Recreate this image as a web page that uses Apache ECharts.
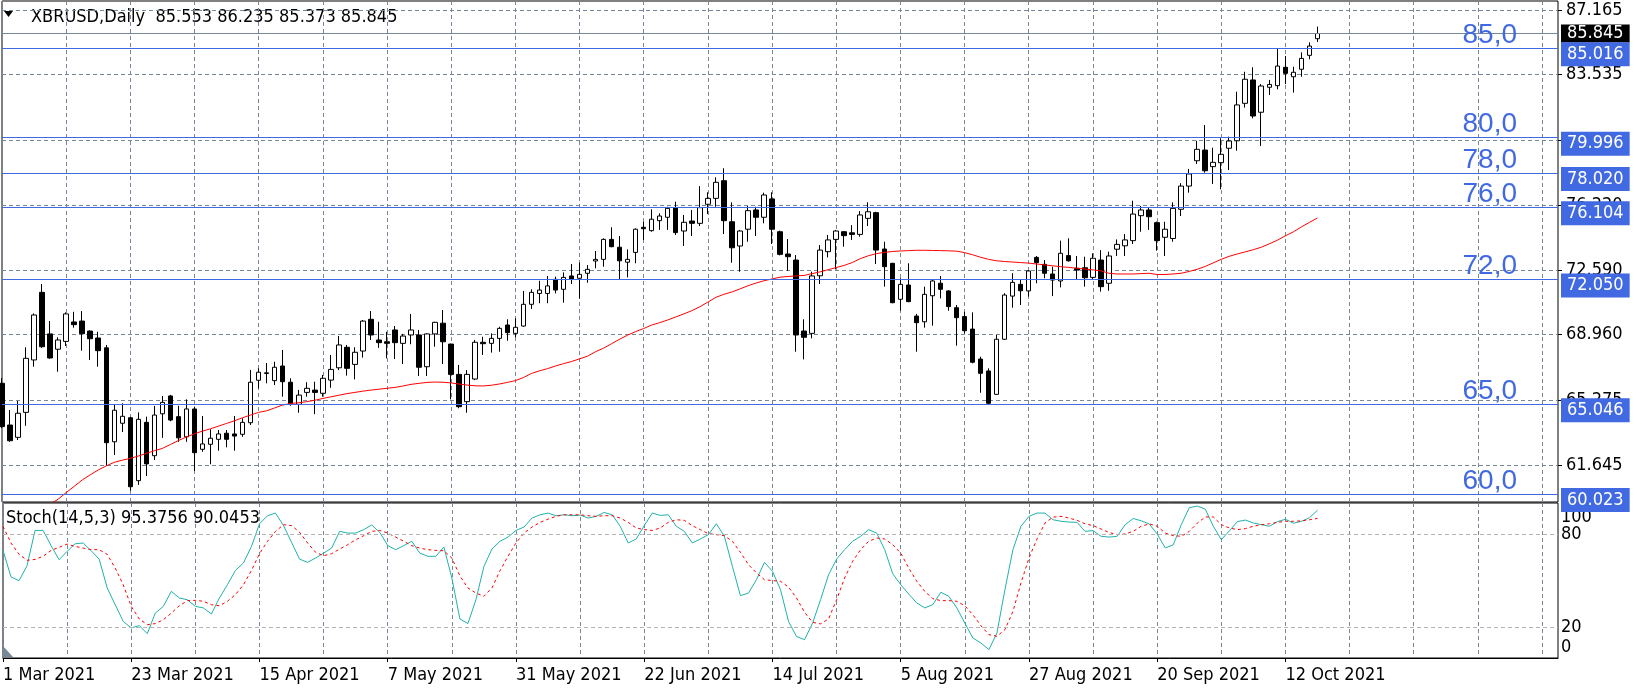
<!DOCTYPE html>
<html>
<head>
<meta charset="utf-8">
<script src="https://cdn.jsdelivr.net/npm/echarts@6/dist/echarts.min.js"></script>
<style>html,body{margin:0;padding:0;background:#fff;}#c{width:1635px;height:688px;}</style>
</head>
<body>
<div id="c"></div>
<script>
// ---------- data ----------
const MONTHS = ['Jan','Feb','Mar','Apr','May','Jun','Jul','Aug','Sep','Oct','Nov','Dec'];
const HOLIDAYS = ['2021-04-02'];
const SLOTS = 195;
const dates = [];
for (let t = Date.UTC(2021, 2, 1); dates.length < SLOTS; t += 86400000) {
  const d = new Date(t), wd = d.getUTCDay();
  if (wd === 0 || wd === 6) continue;
  if (HOLIDAYS.includes(d.toISOString().slice(0, 10))) continue;
  dates.push(d.getUTCDate() + ' ' + MONTHS[d.getUTCMonth()] + ' ' + d.getUTCFullYear());
}

// [open, high, low, close]
const ohlc = [
[66.23,66.52,63.72,63.80],[63.89,64.73,62.95,63.01],[63.20,65.24,63.05,64.55],[64.60,68.25,63.85,67.63],
[67.54,70.15,67.16,70.06],[71.33,71.80,68.22,68.28],[69.00,69.72,67.61,67.65],[68.14,68.81,66.88,68.66],
[68.58,70.21,68.32,70.12],[69.67,70.24,69.35,69.52],[69.72,70.28,68.06,69.01],[69.16,69.20,67.54,68.73],
[68.77,69.12,67.16,68.06],[68.22,68.38,61.61,62.90],[62.95,65.07,62.21,64.72],[63.99,65.11,63.50,64.38],
[64.30,64.35,60.20,60.43],[60.77,64.60,60.53,64.21],[64.04,64.36,61.03,61.71],[62.17,64.96,61.93,64.45],
[64.52,65.52,63.17,65.16],[65.52,65.58,64.10,64.17],[64.36,64.97,62.95,63.17],[63.23,65.33,62.95,64.79],
[64.79,64.92,61.31,62.34],[62.53,64.40,62.39,62.83],[62.81,63.65,61.69,63.15],[63.09,63.61,62.45,63.39],
[63.43,63.61,62.64,63.09],[63.39,64.40,62.45,63.27],[63.37,64.27,63.23,64.04],[64.02,66.98,63.89,66.29],
[66.40,67.07,65.95,66.85],[66.78,67.37,66.23,66.82],[66.38,67.44,66.13,67.13],[67.20,68.10,65.48,66.32],
[66.29,66.51,64.97,65.05],[65.05,65.86,64.58,65.57],[65.72,66.29,65.48,65.95],[65.85,66.32,64.50,65.72],
[65.67,66.70,65.48,66.51],[66.41,67.82,65.98,67.01],[67.10,68.88,66.97,68.38],[68.25,68.38,66.66,67.07],
[67.29,68.25,66.45,67.97],[68.04,69.78,67.67,69.72],[69.82,70.28,68.66,68.94],[68.66,69.68,68.22,68.51],
[68.56,69.12,67.63,68.47],[69.22,69.44,67.59,68.51],[68.47,69.00,67.31,68.88],[68.94,70.12,68.42,69.22],
[68.94,69.22,66.64,67.13],[67.16,69.03,66.64,69.00],[69.00,69.68,68.28,69.65],[69.60,70.34,67.31,68.56],
[68.43,68.45,65.33,66.73],[66.73,67.26,64.83,64.92],[65.20,66.97,64.58,66.73],[66.47,68.66,66.41,68.53],
[68.53,68.84,67.82,68.45],[68.47,69.03,67.95,68.75],[68.75,69.40,68.00,69.31],[69.50,69.82,68.62,69.07],
[69.03,69.88,68.81,69.37],[69.44,71.41,69.40,70.66],[70.66,71.50,70.40,71.33],[71.27,71.98,70.72,71.46],
[71.27,72.25,70.72,71.69],[72.06,72.21,71.27,71.46],[71.50,72.45,70.75,72.17],[72.25,72.92,71.80,72.06],
[72.12,73.00,70.99,72.34],[72.40,72.86,71.87,72.62],[73.09,73.65,72.68,73.18],[73.18,74.36,72.77,74.30],
[74.30,74.98,73.86,73.89],[73.86,74.49,72.06,73.10],[73.02,73.74,72.17,73.18],[73.57,74.92,72.96,74.87],
[74.98,75.29,74.27,74.90],[74.79,75.99,74.73,75.43],[75.35,75.76,74.83,75.61],[75.54,76.13,74.83,76.04],
[76.08,76.41,74.55,74.68],[74.77,75.67,73.93,75.26],[75.33,75.95,74.49,75.20],[75.20,77.29,75.05,76.08],
[76.27,76.94,75.72,76.60],[76.60,77.78,76.13,77.50],[77.59,78.29,74.60,75.35],[75.29,76.38,72.99,73.83],
[73.93,74.83,72.49,74.77],[74.87,76.17,74.17,75.91],[75.95,76.13,74.49,75.54],[75.54,76.92,75.20,76.79],
[76.57,76.94,74.04,74.87],[74.73,74.79,73.40,73.46],[73.48,74.32,72.54,73.33],[73.14,73.42,68.00,68.94],
[69.16,69.82,67.57,68.81],[69.03,72.49,68.75,72.25],[72.26,73.98,71.80,73.70],[73.61,74.55,73.29,74.27],
[74.30,74.83,72.62,74.77],[74.73,74.77,73.89,74.51],[74.67,75.10,74.27,74.58],[74.58,75.89,74.45,75.67],
[75.48,76.38,75.05,75.85],[75.80,75.85,72.92,73.70],[73.76,74.17,71.65,72.77],[72.96,72.98,70.72,70.75],
[70.94,72.12,70.30,71.78],[71.74,72.96,70.78,70.81],[70.00,70.12,68.00,69.63],[69.68,71.65,69.35,71.22],
[71.14,72.02,69.46,71.97],[71.84,72.25,70.99,71.50],[71.41,71.45,70.30,70.53],[70.47,70.62,68.34,69.91],
[69.97,70.24,69.03,69.18],[69.27,70.21,67.35,67.41],[67.59,67.72,65.70,66.79],[66.92,67.07,65.05,65.11],
[65.61,68.94,65.58,68.70],[68.70,71.28,68.66,71.18],[71.12,72.40,70.47,71.89],[71.78,72.06,70.62,71.42],
[71.41,72.58,71.09,72.53],[73.29,73.37,71.84,73.00],[72.90,73.14,72.12,72.40],[72.36,72.77,71.12,72.02],
[71.97,74.23,71.61,73.52],[73.39,74.36,73.05,73.10],[72.68,73.37,72.06,72.58],[72.71,73.33,71.65,72.15],
[72.17,73.52,72.02,73.24],[73.14,73.70,71.37,71.65],[71.84,73.61,71.42,73.37],[73.75,74.30,73.37,74.02],
[73.94,74.60,73.37,74.27],[74.23,76.47,74.04,75.72],[75.63,76.17,74.73,75.95],[75.95,76.10,74.83,75.57],
[75.24,75.30,73.67,74.23],[74.42,75.29,73.37,74.87],[74.35,76.38,74.17,76.04],[75.99,77.45,75.61,77.29],
[77.29,78.25,76.92,77.97],[78.71,79.83,78.53,79.35],[79.31,80.71,78.04,78.15],[78.38,79.44,77.41,78.62],
[78.60,79.97,77.11,79.07],[79.41,80.06,78.19,79.82],[79.83,82.58,79.27,81.84],[81.93,83.70,81.69,83.28],
[83.24,83.95,81.09,81.22],[81.43,83.01,79.54,82.90],[82.83,83.24,82.40,82.99],[82.92,85.02,82.72,84.02],
[83.95,84.58,83.01,83.61],[83.42,83.98,82.53,83.67],[83.84,84.79,83.42,84.45],[84.62,85.35,84.40,85.14],
[85.553,86.235,85.373,85.845]
];

const ma = [
57.4,57.8,58.2,58.6,58.95,59.2,59.45,59.73,60.1,60.45,60.81,61.1,61.37,61.6,61.8,61.92,62.02,62.15,62.3,62.45,
62.58,62.8,63.02,63.22,63.4,63.55,63.68,63.83,63.98,64.13,64.3,64.45,64.6,64.69,64.85,65.01,65.1,65.14,65.2,65.28,
65.38,65.47,65.56,65.65,65.72,65.79,65.85,65.9,65.95,66.0,66.08,66.17,66.23,66.28,66.3,66.29,66.25,66.19,66.13,66.09,
66.08,66.12,66.19,66.28,66.38,66.55,66.78,66.93,67.05,67.2,67.33,67.45,67.6,67.75,68.0,68.2,68.45,68.7,68.93,69.13,
69.3,69.5,69.63,69.78,69.95,70.12,70.3,70.52,70.78,71.05,71.22,71.35,71.52,71.7,71.85,71.98,72.08,72.18,72.22,72.25,
72.28,72.38,72.48,72.6,72.72,72.84,73.0,73.22,73.38,73.5,73.57,73.62,73.65,73.67,73.69,73.69,73.68,73.67,73.66,73.64,
73.56,73.44,73.3,73.18,73.1,73.06,73.03,73.0,72.97,72.92,72.87,72.82,72.77,72.73,72.68,72.64,72.59,72.54,72.4,72.36,
72.36,72.36,72.38,72.4,72.33,72.33,72.36,72.4,72.5,72.62,72.78,72.98,73.18,73.35,73.48,73.6,73.72,73.86,74.05,74.25,
74.5,74.72,75.0,75.25,75.5
];

const stochK = [
69.4,52.3,49.9,59.5,82.3,82.3,72.5,63.4,68.8,73.7,74.2,69.2,63.8,45.2,34.4,23.6,19.4,20.9,15.7,29.0,
33.3,43.0,38.7,37.6,33.3,32.3,28.4,38.7,47.3,56.5,61.3,72.0,86.6,91.8,93.5,85.4,74.6,63.8,61.7,64.5,
67.7,70.9,81.7,80.6,80.6,82.8,85.8,81.1,72.5,69.9,72.5,75.3,67.7,65.6,65.6,71.6,51.6,25.2,22.2,37.6,
59.1,70.3,75.3,78.0,82.3,84.5,90.3,92.4,93.5,91.8,92.4,91.8,92.2,90.3,91.4,93.9,92.4,85.0,74.2,76.8,
85.4,93.5,92.0,92.4,85.0,81.7,74.2,76.8,79.6,86.6,78.5,59.1,40.2,41.9,50.5,61.7,55.9,44.1,23.6,13.9,
11.8,22.5,37.6,53.7,63.8,69.9,75.3,78.5,82.8,80.6,69.9,54.4,47.3,41.2,35.5,32.3,34.4,42.4,39.8,32.3,
22.5,12.9,9.7,5.4,16.1,44.1,69.9,85.0,91.4,93.5,93.5,89.2,88.2,87.7,87.5,81.7,82.2,78.5,78.0,78.5,
86.0,90.0,88.5,86.5,80.0,71.0,73.0,86.0,97.0,98.0,96.0,85.0,76.3,82.0,88.0,89.0,87.1,86.0,85.0,88.0,
89.5,87.0,88.2,90.5,95.3756
];

const stochD = [
84.9,74.2,66.9,63.0,63.6,65.6,69.4,71.4,73.5,72.0,70.9,69.9,69.9,66.9,58.0,47.2,33.3,25.2,21.5,22.2,
24.7,29.0,33.7,37.0,37.2,36.6,34.4,33.7,36.6,40.9,47.3,56.5,67.3,75.3,81.7,86.0,85.4,81.1,74.2,68.2,
66.0,67.3,70.3,73.1,76.3,78.9,81.7,82.3,80.6,78.0,75.3,72.5,70.9,69.9,69.4,69.2,64.5,53.0,45.2,41.9,
39.8,45.2,56.3,65.6,74.2,80.6,84.5,87.5,89.6,91.4,92.4,92.4,92.4,91.8,91.4,91.8,91.8,90.3,87.5,83.9,
82.8,82.3,83.9,87.5,89.2,88.8,85.4,82.8,80.2,79.6,78.9,75.3,68.2,60.3,54.9,50.5,49.9,49.5,45.8,38.7,
29.5,23.0,22.0,25.2,37.6,51.6,62.4,69.9,75.3,77.4,76.8,73.1,67.7,58.0,49.5,43.0,38.3,37.0,37.0,36.6,
33.7,27.9,20.9,15.1,14.0,18.3,30.1,48.4,64.5,76.8,87.1,90.9,91.4,90.3,88.8,86.6,85.4,83.2,81.0,79.6,
80.0,81.7,85.0,86.5,85.0,80.6,79.0,78.5,81.7,87.0,91.0,91.0,86.0,83.9,82.8,83.5,85.0,86.0,86.6,87.5,
88.2,88.2,88.5,89.2,90.0453
];

const priceTicks = [61.645, 65.275, 68.960, 72.590, 76.220, 79.875, 83.535, 87.165];
const stochTicksLow = [0, 20, 80];
const stochTicksTop = [100];
const stochLevels = [20, 80];
const levels = [85.016, 79.996, 78.020, 76.104, 72.050, 65.046, 60.023];
const levelTexts = ['85,0', '80,0', '78,0', '76,0', '72,0', '65,0', '60,0'];
const bidPrice = 85.845;

// ---------- chart ----------
const FONT = "'DejaVu Sans Condensed', 'Liberation Sans', sans-serif";
const GRID = '#778899';
const BLUE = '#4169E1';
const last = ohlc[ohlc.length - 1];

const chart = echarts.init(document.getElementById('c'), null, { renderer: 'canvas' });

const vSplit = { show: true, interval: (i) => i % 8 === 0, lineStyle: { color: GRID, type: [4, 3], width: 1 } };

const blueLines = levels.map(v => ({
  yAxis: v,
  lineStyle: { color: BLUE, width: 1, type: 'solid' },
  label: {
    show: true, position: 'end', distance: 3,
    formatter: '{a|' + v.toFixed(3) + '}',
    padding: [12, 0, 0, 0],
    rich: { a: { backgroundColor: BLUE, color: '#fff', fontSize: 18, fontFamily: FONT, lineHeight: 18, padding: [3, 6, 3, 6] } }
  }
}));
const bigTexts = levels.map((v, i) => ({
  yAxis: v,
  lineStyle: { color: 'rgba(0,0,0,0)', width: 0 },
  label: {
    show: true, position: 'insideEndTop', distance: [41, -1],
    formatter: levelTexts[i], color: BLUE, fontSize: 28, fontFamily: "'Liberation Sans', Arial, sans-serif"
  }
}));
const bidLine = {
  yAxis: bidPrice,
  lineStyle: { color: GRID, width: 1, type: 'solid' },
  label: {
    show: true, position: 'end', distance: 3,
    formatter: '{k|' + bidPrice.toFixed(3) + '}',
    rich: { k: { backgroundColor: '#000', color: '#fff', fontSize: 18, fontFamily: FONT, lineHeight: 16, padding: [0, 6, 0, 6] } }
  }
};

const stochRich = (extra) => Object.assign({ fontSize: 18, fontFamily: FONT, color: '#000', lineHeight: 14 }, extra);
const stochAxisBase = {
  type: 'value', gridIndex: 1, position: 'right', min: 0, max: 100,
  axisLine: { show: false }, axisTick: { show: false }, splitLine: { show: false }
};

const option = {
  animation: false,
  backgroundColor: '#fff',
  grid: [
    { left: 2, top: 1, width: 1556, height: 501, show: true, borderColor: '#000', borderWidth: 1, backgroundColor: 'transparent' },
    { left: 2, top: 503, width: 1556, height: 155, show: true, borderColor: '#000', borderWidth: 1, backgroundColor: 'transparent' }
  ],
  xAxis: [
    { type: 'category', gridIndex: 0, data: dates, boundaryGap: false,
      axisLine: { show: false }, axisTick: { show: false }, axisLabel: { show: false }, splitLine: vSplit },
    { type: 'category', gridIndex: 1, data: dates, boundaryGap: false,
      axisLine: { show: true, lineStyle: { color: '#000' } },
      axisTick: { show: true, interval: (i) => i % 16 === 0 && i <= 160, length: 4, lineStyle: { color: '#000' } },
      axisLabel: { show: true, interval: (i) => i % 16 === 0 && i <= 160, align: 'left', margin: 8,
        color: '#000', fontSize: 18, fontFamily: FONT },
      splitLine: vSplit }
  ],
  yAxis: [
    { type: 'value', gridIndex: 0, position: 'right', min: 59.574, max: 87.668,
      axisLine: { show: false },
      axisTick: { show: true, customValues: priceTicks, length: 4, lineStyle: { color: '#000' } },
      axisLabel: { show: true, customValues: priceTicks, margin: 8, color: '#000', fontSize: 18, fontFamily: FONT,
        showMinLabel: true, showMaxLabel: true, formatter: (v) => v.toFixed(3) },
      splitLine: { show: true, lineStyle: { color: GRID, type: [4, 3], width: 1 } } },
    Object.assign({}, stochAxisBase, {
      axisLabel: { show: true, customValues: stochTicksLow, margin: 3, color: '#000',
        showMinLabel: true, showMaxLabel: true,
        formatter: (v) => v === 0 ? '{b|0}' : '{n|' + v + '}',
        rich: { b: stochRich({ padding: [0, 0, 22, 0] }), n: stochRich({}) } } }),
    Object.assign({}, stochAxisBase, {
      axisLabel: { show: true, customValues: stochTicksTop, margin: 3, color: '#000',
        showMinLabel: true, showMaxLabel: true,
        formatter: (v) => '{t|' + v + '}',
        rich: { t: stochRich({ padding: [28, 0, 0, 0] }) } } })
  ],
  series: [
    { type: 'candlestick', xAxisIndex: 0, yAxisIndex: 0, barWidth: 5,
      data: ohlc.map(d => [d[0], d[3], d[2], d[1]]),
      itemStyle: { color: '#ffffff', color0: '#000000', borderColor: '#000000', borderColor0: '#000000', borderWidth: 1 },
      markLine: { silent: true, symbol: ['none', 'none'], animation: false, data: [bidLine].concat(blueLines, bigTexts) } },
    { type: 'line', xAxisIndex: 0, yAxisIndex: 0, data: ma, showSymbol: false, symbol: 'none',
      lineStyle: { color: '#FF0000', width: 1 }, z: 3 },
    { type: 'line', xAxisIndex: 1, yAxisIndex: 1, data: stochK, showSymbol: false, symbol: 'none',
      lineStyle: { color: '#20B2AA', width: 1 },
      markLine: { silent: true, symbol: ['none', 'none'], animation: false, label: { show: false },
        data: stochLevels.map(v => ({ yAxis: v, lineStyle: { color: '#B4B4B4', type: [4, 3], width: 1 } })) } },
    { type: 'line', xAxisIndex: 1, yAxisIndex: 1, data: stochD, showSymbol: false, symbol: 'none',
      lineStyle: { color: '#FF0000', width: 1, type: [3, 3] } }
  ],
  graphic: [
    { type: 'polygon', shape: { points: [[4, 11], [13, 11], [8.5, 17]] }, style: { fill: '#000' } },
    { type: 'text', x: 31, y: 17, style: { text: 'XBRUSD,Daily  ' + last[0].toFixed(3) + ' ' + last[1].toFixed(3) + ' ' + last[2].toFixed(3) + ' ' + last[3].toFixed(3),
      font: '18px ' + FONT, fill: '#000', verticalAlign: 'middle' } },
    { type: 'text', x: 6, y: 518, style: { text: 'Stoch(14,5,3) ' + stochK[stochK.length - 1].toFixed(4) + ' ' + stochD[stochD.length - 1].toFixed(4),
      font: '18px ' + FONT, fill: '#000', verticalAlign: 'middle' } },
    { type: 'polygon', shape: { points: [[3, 646], [3, 657], [13, 657]] }, style: { fill: GRID } }
  ]
};
chart.setOption(option);
</script>
</body>
</html>
